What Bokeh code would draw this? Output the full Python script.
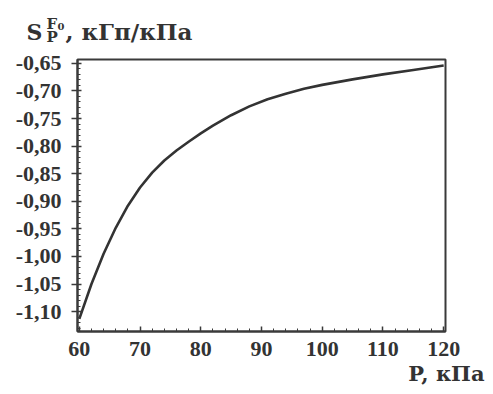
from bokeh.plotting import figure
from bokeh.models import Range1d, Label, FixedTicker, CustomJSTickFormatter, Title
from bokeh.layouts import column
from bokeh.embed import file_html
from bokeh.resources import INLINE

# Data
P = [60, 62, 64, 66, 68, 70, 72, 74, 76, 78, 80, 82, 85, 88, 91, 94, 97,
     100, 105, 110, 115, 120]
S = [-1.113, -1.050, -0.995, -0.948, -0.908, -0.875, -0.848, -0.826, -0.808,
     -0.792, -0.777, -0.763, -0.744, -0.728, -0.715, -0.705, -0.696,
     -0.689, -0.679, -0.670, -0.662, -0.654]
x_ticks = [60, 70, 80, 90, 100, 110, 120]
y_ticks = [-0.65, -0.70, -0.75, -0.80, -0.85, -0.90, -0.95, -1.00, -1.05, -1.10]
y_title_main = "S"
y_title_sup = "F"
y_title_sup_sub = "0"
y_title_sub = "P"
y_title_units = ", кГп/кПа"
x_title = "P, кПа"

W = 485
HEAD_H = 51
H = 335
L, R, T, B = 77, 40, 8, 55
x0, x1 = 59.7, 120.3
y0, y1 = -1.136, -0.643

FONT = "Liberation Serif"
TITLE_FONT = "DejaVu Serif"
INK = "#333333"

# ---- header holding the y-axis title (texts placed in pixel coordinates)
head = figure(width=W, height=HEAD_H, output_backend="svg",
              toolbar_location=None, x_range=Range1d(0, W),
              y_range=Range1d(HEAD_H, 0), x_axis_type=None, y_axis_type=None,
              min_border=0)
head.frame_align = False
head.grid.visible = False
head.outline_line_color = None
head.background_fill_color = "white"
head.border_fill_color = "white"


def add_text(text, x, y, size, font=TITLE_FONT):
    head.add_layout(Label(x=x, y=y, text=text, text_font=font,
                          text_font_style="bold", text_font_size=size,
                          text_color=INK, text_baseline="alphabetic"))


add_text(y_title_main, 26, 31, "22px")
add_text(y_title_sup, 46, 23, "15px")
add_text(y_title_sup_sub, 57, 26, "10px")
add_text(y_title_sub, 46, 36, "15px")
add_text(y_title_units, 65, 31, "23px")

# ---- main chart
p = figure(width=W, height=H, output_backend="svg", toolbar_location=None,
           x_range=Range1d(x0, x1), y_range=Range1d(y0, y1),
           min_border_left=L, min_border_right=R, min_border_top=T,
           min_border_bottom=B)
p.frame_align = False
p.background_fill_color = "white"
p.border_fill_color = "white"
p.grid.visible = False
p.outline_line_color = "#3a3a3a"
p.outline_line_width = 2

for ax in (p.xaxis[0], p.yaxis[0]):
    ax.axis_line_color = "#3a3a3a"
    ax.axis_line_width = 2
    ax.major_tick_line_color = "#3a3a3a"
    ax.minor_tick_line_color = "#3a3a3a"
    ax.major_tick_line_width = 1.5
    ax.minor_tick_line_width = 1
    ax.major_label_text_font = FONT
    ax.major_label_text_font_style = "bold"
    ax.major_label_text_font_size = "22px"
    ax.major_label_text_color = INK

p.xaxis.ticker = FixedTicker(ticks=x_ticks,
                             minor_ticks=list(range(60, 121, 2)))
p.yaxis.ticker = FixedTicker(ticks=y_ticks,
                             minor_ticks=[round(-1.13 + 0.01 * i, 2) for i in range(49)])
p.yaxis.formatter = CustomJSTickFormatter(
    code="return tick.toFixed(2).replace('.', ',');")
p.xaxis.formatter = CustomJSTickFormatter(code="return tick.toFixed(0);")

p.xaxis.major_tick_in = 5
p.xaxis.major_tick_out = 0
p.xaxis.minor_tick_in = 3
p.xaxis.minor_tick_out = 0
p.xaxis.major_label_standoff = 10
p.yaxis.major_tick_in = 4
p.yaxis.major_tick_out = 6
p.yaxis.minor_tick_in = 3
p.yaxis.minor_tick_out = 0
p.yaxis.major_label_standoff = 10

p.line(P, S, line_color=INK, line_width=2.6)

p.add_layout(Title(text=x_title, align="right", text_font=TITLE_FONT,
                   text_font_style="bold", text_font_size="21px",
                   text_color=INK, standoff=0, offset=-39), "below")

layout = column(head, p, spacing=0)
open("out.html", "w").write(file_html(layout, INLINE))
